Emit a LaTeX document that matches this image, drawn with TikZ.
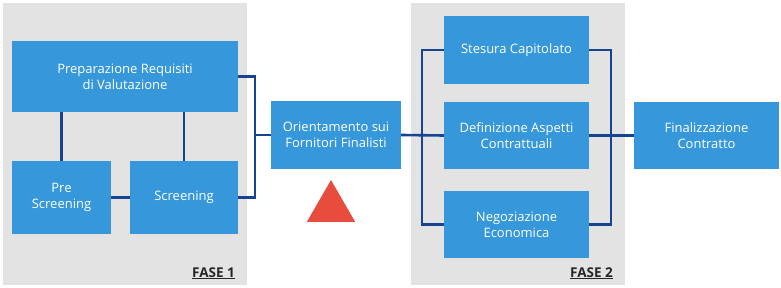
\documentclass[tikz,border=0pt]{standalone}
\usepackage{fontspec}
\setmainfont{Open Sans}
\definecolor{boxblue}{RGB}{54, 152, 219}
\definecolor{linkblue}{RGB}{22, 68, 146}
\definecolor{phasegray}{RGB}{227, 227, 227}
\definecolor{alertred}{RGB}{232, 76, 61}
\usetikzlibrary{positioning, shapes.geometric}

\begin{document}
\begin{tikzpicture}[x=1pt, y=-1pt, every node/.style={font=\fontsize{13}{16}\selectfont},
    task/.style={rectangle, fill=boxblue, text=white, align=center, inner sep=0pt},
    phase/.style={rectangle, fill=phasegray, inner sep=0pt},
    link/.style={draw=linkblue, line width=2.6pt},
    phasetag/.style={font=\fontsize{13.5}{16}\bfseries, text=black!85, anchor=base east, inner sep=0pt}]
    \useasboundingbox (0,0) rectangle (781,288);

    % phase backgrounds
    \node [phase, minimum width=244pt, minimum height=282pt] (ph1) at (125,144) {};
    \node [phase, minimum width=214pt, minimum height=282pt] (ph2) at (518,144) {};
    \node [phasetag] (tag1) at (235,277) {\underline{FASE 1}};
    \node [phasetag] (tag2) at (613,277) {\underline{FASE 2}};

    % phase 1
    \node [task, minimum width=226pt, minimum height=71pt] (prep) at (125,76.5) {Preparazione Requisiti\\di Valutazione};
    \node [task, minimum width=99pt, minimum height=73pt] (pre) at (61.5,197.5) {Pre\\Screening};
    \node [task, minimum width=108pt, minimum height=73pt] (scr) at (184,197.5) {Screening};

    % between phases
    \node [task, minimum width=130pt, minimum height=68pt] (ori) at (336,135) {Orientamento sui\\Fornitori Finalisti};
    \node [isosceles triangle, shape border rotate=90, isosceles triangle apex angle=60, fill=alertred, inner sep=0pt, minimum height=42pt, minimum width=44pt] (warn) at (331,208) {};

    % phase 2
    \node [task, minimum width=145pt, minimum height=68pt] (cap) at (516.5,50) {Stesura Capitolato};
    \node [task, minimum width=145pt, minimum height=67pt] (asp) at (516.5,135.5) {Definizione Aspetti\\Contrattuali};
    \node [task, minimum width=145pt, minimum height=67pt] (neg) at (516.5,224.5) {Negoziazione\\Economica};
    \node [task, minimum width=145pt, minimum height=67pt] (fin) at (706.5,135.5) {Finalizzazione\\Contratto};

    \coordinate (j1) at (255,135);
    \coordinate (j2) at (422,135);
    \coordinate (j3) at (611,135);

    \draw [link] (prep.south -| pre.north) -- (pre.north);
    \draw [link] (prep.south -| scr.north) -- (scr.north);
    \draw [link] (pre.east) -- (scr.west);
    \draw [link] (prep.east) -| (j1) |- (scr.east);
    \draw [link] (j1) -- (ori.west);
    \draw [link] (ori.east) -- (asp.west);
    \draw [link] (cap.west) -| (j2) |- (neg.west);
    \draw [link] (cap.east) -| (j3) |- (neg.east);
    \draw [link] (asp.east) -- (fin.west);
\end{tikzpicture}
\end{document}
